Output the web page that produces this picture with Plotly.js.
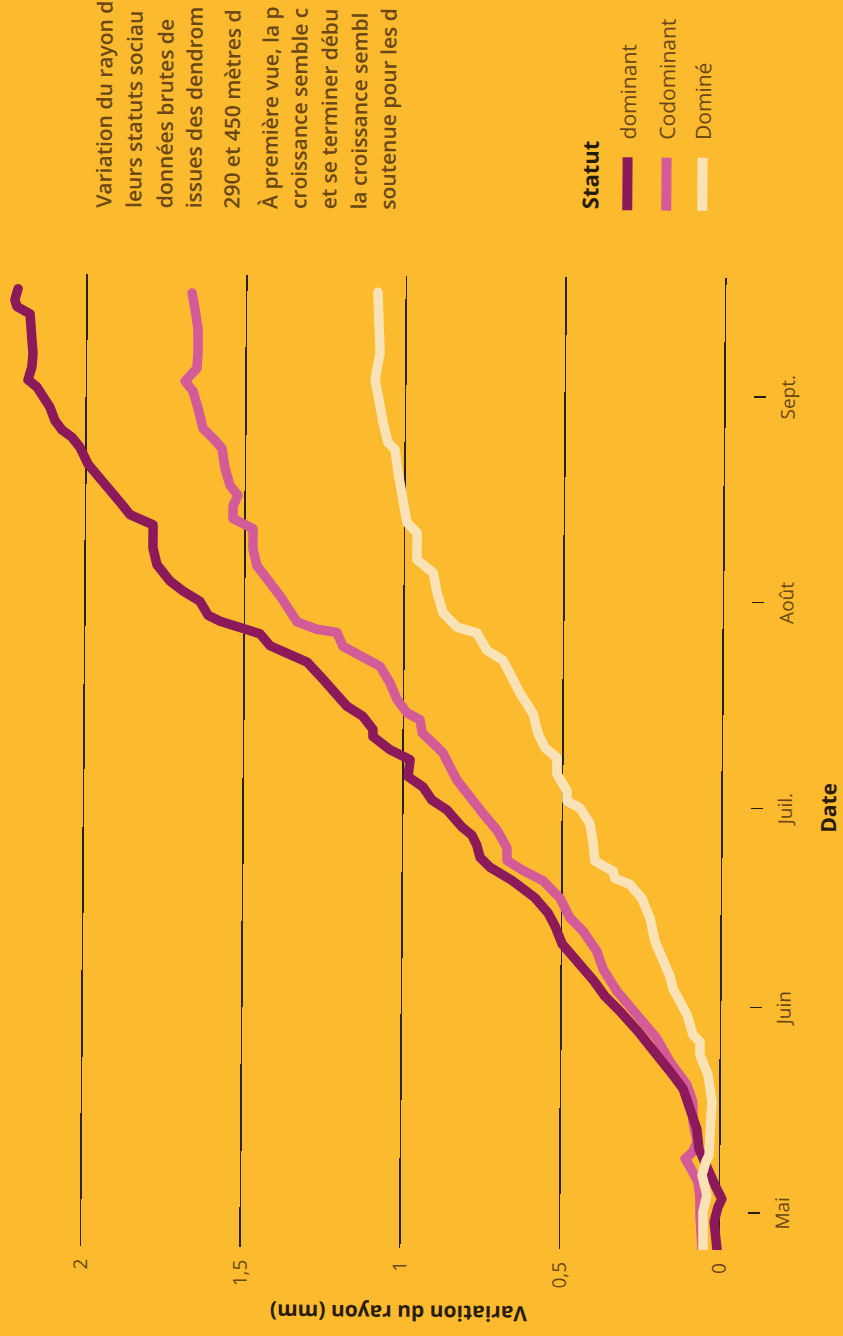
<!DOCTYPE html>
<html>
<head>
<meta charset="utf-8">
<script src="https://cdn.plot.ly/plotly-3.0.1.min.js"></script>
<style>
  html, body { margin: 0; padding: 0; width: 843px; height: 1336px; overflow: hidden; background: #FCBA2F; }
  #chart { position: absolute; left: 0; top: 0; width: 1336px; height: 843px;
           transform-origin: 0 0; transform: translate(2.4px, 1331px) rotate(-89.6deg); }
  #chart .js-line { stroke-linejoin: round; stroke-linecap: round; }
</style>
</head>
<body>
<div id="chart"></div>
<script>
// ---- data ----
const seriesNames = ['dominant', 'Codominant', 'Dominé'];

const dominantDates = ['2019-04-25 10:00','2019-04-27 19:00','2019-04-29 15:00','2019-05-01 21:00','2019-05-03 02:00','2019-05-04 21:00','2019-05-06 17:00','2019-05-08 16:00','2019-05-10 15:00','2019-05-13 15:00','2019-05-16 16:00','2019-05-19 16:00','2019-05-22 06:00','2019-05-25 17:00','2019-05-28 06:00','2019-05-31 06:00','2019-06-02 13:00','2019-06-04 19:00','2019-06-07 08:00','2019-06-10 09:00','2019-06-13 02:00','2019-06-15 01:00','2019-06-17 07:00','2019-06-19 21:00','2019-06-21 20:00','2019-06-23 08:00','2019-06-25 03:00','2019-06-26 16:00','2019-06-27 21:00','2019-06-30 10:00','2019-07-01 22:00','2019-07-03 21:00','2019-07-05 10:00','2019-07-07 23:00','2019-07-09 11:00','2019-07-11 10:00','2019-07-12 12:00','2019-07-14 11:00','2019-07-15 23:00','2019-07-18 02:00','2019-07-20 12:00','2019-07-22 14:00','2019-07-23 19:00','2019-07-25 00:00','2019-07-26 19:00','2019-07-27 14:00','2019-07-28 15:00','2019-07-29 13:00','2019-07-31 15:00','2019-08-02 04:00','2019-08-03 16:00','2019-08-06 02:00','2019-08-08 15:00','2019-08-12 02:00','2019-08-13 04:00','2019-08-13 15:00','2019-08-15 03:00','2019-08-17 06:00','2019-08-19 05:00','2019-08-21 04:00','2019-08-23 17:00','2019-08-25 05:00','2019-08-26 07:00','2019-08-27 18:00','2019-08-29 18:00','2019-08-31 17:00','2019-09-01 18:00','2019-09-02 20:00','2019-09-04 19:00','2019-09-06 18:00','2019-09-09 18:00','2019-09-12 18:00','2019-09-13 20:00','2019-09-14 21:00','2019-09-16 13:00'];
const dominantValues = [0.006,0.010,0.016,0.004,-0.008,0.011,0.027,0.052,0.065,0.072,0.094,0.116,0.157,0.211,0.258,0.315,0.363,0.397,0.442,0.498,0.521,0.543,0.584,0.656,0.725,0.757,0.767,0.783,0.814,0.861,0.909,0.937,0.984,0.978,1.041,1.095,1.095,1.127,1.177,1.221,1.262,1.303,1.357,1.419,1.451,1.514,1.576,1.614,1.640,1.693,1.734,1.775,1.788,1.788,1.829,1.861,1.886,1.924,1.962,1.993,2.019,2.044,2.075,2.098,2.114,2.136,2.155,2.183,2.171,2.168,2.172,2.178,2.219,2.226,2.216];

const codominantDates = ['2019-04-25 10:00','2019-04-28 03:00','2019-04-30 09:00','2019-05-03 09:00','2019-05-05 15:00','2019-05-07 22:00','2019-05-09 03:00','2019-05-10 04:00','2019-05-11 16:00','2019-05-14 17:00','2019-05-17 17:00','2019-05-20 06:00','2019-05-23 18:00','2019-05-27 05:00','2019-05-30 19:00','2019-06-03 07:00','2019-06-06 14:00','2019-06-09 07:00','2019-06-12 08:00','2019-06-14 07:00','2019-06-17 07:00','2019-06-19 21:00','2019-06-21 09:00','2019-06-22 21:00','2019-06-24 20:00','2019-06-27 10:00','2019-06-29 23:00','2019-07-02 09:00','2019-07-04 23:00','2019-07-06 22:00','2019-07-09 00:00','2019-07-09 22:00','2019-07-12 01:00','2019-07-14 00:00','2019-07-15 01:00','2019-07-17 00:00','2019-07-19 13:00','2019-07-22 00:00','2019-07-23 12:00','2019-07-25 00:00','2019-07-27 02:00','2019-07-27 13:00','2019-07-28 15:00','2019-07-30 14:00','2019-08-01 13:00','2019-08-04 02:00','2019-08-06 01:00','2019-08-08 15:00','2019-08-11 15:00','2019-08-13 03:00','2019-08-15 02:00','2019-08-16 15:00','2019-08-18 03:00','2019-08-20 16:00','2019-08-23 17:00','2019-08-25 05:00','2019-08-26 17:00','2019-08-29 18:00','2019-09-01 07:00','2019-09-02 19:00','2019-09-04 18:00','2019-09-07 08:00','2019-09-10 19:00','2019-09-13 19:00','2019-09-16 02:00'];
const codominantValues = [0.053,0.060,0.060,0.061,0.067,0.093,0.108,0.084,0.071,0.084,0.085,0.104,0.158,0.199,0.262,0.325,0.369,0.389,0.433,0.474,0.506,0.559,0.622,0.672,0.673,0.704,0.749,0.790,0.831,0.853,0.875,0.894,0.941,0.948,0.989,1.020,1.043,1.074,1.128,1.191,1.210,1.273,1.335,1.358,1.389,1.430,1.462,1.475,1.475,1.538,1.538,1.523,1.548,1.564,1.574,1.602,1.634,1.650,1.666,1.691,1.654,1.651,1.652,1.662,1.671];

const domineDates = ['2019-04-25 10:00','2019-04-28 13:00','2019-05-01 03:00','2019-05-03 16:00','2019-05-06 17:00','2019-05-08 16:00','2019-05-09 17:00','2019-05-12 18:00','2019-05-15 03:00','2019-05-17 17:00','2019-05-21 18:00','2019-05-24 19:00','2019-05-26 18:00','2019-05-27 19:00','2019-05-30 20:00','2019-06-03 18:00','2019-06-05 13:00','2019-06-07 19:00','2019-06-10 20:00','2019-06-14 07:00','2019-06-17 07:00','2019-06-19 10:00','2019-06-20 07:00','2019-06-21 09:00','2019-06-22 21:00','2019-06-25 21:00','2019-06-28 11:00','2019-06-30 21:00','2019-07-01 22:00','2019-07-03 10:00','2019-07-06 00:00','2019-07-08 10:00','2019-07-09 22:00','2019-07-12 01:00','2019-07-15 01:00','2019-07-18 02:00','2019-07-20 12:00','2019-07-23 01:00','2019-07-24 13:00','2019-07-27 03:00','2019-07-28 00:00','2019-07-30 03:00','2019-08-02 03:00','2019-08-05 04:00','2019-08-07 03:00','2019-08-09 09:00','2019-08-11 04:00','2019-08-12 17:00','2019-08-15 17:00','2019-08-16 15:00','2019-08-20 06:00','2019-08-23 17:00','2019-08-24 18:00','2019-08-27 18:00','2019-08-30 19:00','2019-09-03 06:00','2019-09-07 08:00','2019-09-12 07:00','2019-09-16 09:00'];
const domineValues = [0.050,0.051,0.051,0.039,0.055,0.043,0.033,0.031,0.025,0.025,0.038,0.064,0.064,0.086,0.105,0.150,0.159,0.182,0.207,0.223,0.249,0.287,0.334,0.340,0.397,0.404,0.413,0.445,0.486,0.486,0.518,0.518,0.556,0.578,0.594,0.635,0.658,0.689,0.740,0.771,0.834,0.878,0.897,0.910,0.961,0.961,0.961,0.993,1.006,1.006,1.022,1.032,1.054,1.070,1.080,1.096,1.081,1.082,1.089];

const monthTickDates = ['2019-05-01','2019-06-01','2019-07-01','2019-08-01','2019-09-01'];
const monthTickLabels = ['Mai','Juin','Juil.','Août','Sept.'];
const valueTicks = [0, 0.5, 1, 1.5, 2];
const valueTickLabels = ['0','0,5','1','1,5','2'];

const descriptionLines = [
  'Variation du rayon d',
  'leurs statuts sociau',
  'données brutes de',
  'issues des dendrom',
  '290 et 450 mètres d',
  'À première vue, la p',
  'croissance semble c',
  'et se terminer débu',
  'la croissance sembl',
  'soutenue pour les d'
];

// ---- styling / layout ----
const BG = '#FCBA2F';
const BROWN = '#6B4716';
const DARK = '#2A1C0C';
const colors = { dominant: '#8C1A5B', Codominant: '#D35B97', 'Dominé': '#F9E3B6' };
const FONT = 'Open Sans, Noto Sans, sans-serif';

// plot area in the (unrotated) figure, pixels
const W = 1336, H = 843, ML = 86, MR = 278, MT = 0, MB = 99;
const PW = W - ML - MR, PH = H - MT - MB;
const PX = x => (x - ML) / PW;
const PY = y => (H - MB - y) / PH;

const traces = [
  { name: 'Codominant', x: codominantDates, y: codominantValues },
  { name: 'dominant', x: dominantDates, y: dominantValues },
  { name: 'Dominé', x: domineDates, y: domineValues }
].map(s => ({
  type: 'scatter', mode: 'lines', name: s.name, x: s.x, y: s.y,
  line: { color: colors[s.name], width: 9.5 }, showlegend: false, hoverinfo: 'skip'
}));

const annotations = [];
const shapes = [];
// axis titles
annotations.push({ text: 'Variation du rayon (mm)', xref: 'paper', yref: 'paper', x: PX(20), y: PY(396.5),
  textangle: -90, showarrow: false, xanchor: 'center', yanchor: 'middle',
  font: { family: FONT, size: 21, color: DARK, weight: 700 } });
annotations.push({ text: 'Date', xref: 'paper', yref: 'paper', x: PX(528.7), y: PY(822),
  showarrow: false, xanchor: 'center', yanchor: 'middle',
  font: { family: FONT, size: 21, color: DARK, weight: 700 } });
// legend
annotations.push({ text: 'Statut', xref: 'paper', yref: 'paper', x: PX(1124), y: PY(579),
  showarrow: false, xanchor: 'left', yanchor: 'middle',
  font: { family: FONT, size: 22, color: DARK, weight: 700 } });
const legendY = [617, 656, 692];
seriesNames.forEach((n, i) => {
  shapes.push({ type: 'line', xref: 'paper', yref: 'paper', x0: PX(1125), x1: PX(1178), y0: PY(legendY[i]), y1: PY(legendY[i]),
    line: { color: colors[n], width: 10 } });
  annotations.push({ text: n, xref: 'paper', yref: 'paper', x: PX(1194), y: PY(legendY[i]),
    showarrow: false, xanchor: 'left', yanchor: 'middle',
    font: { family: FONT, size: 21, color: BROWN } });
});
// description text
const descY = [92.7, 123.2, 153.7, 183.2, 220.7, 258.7, 288.3, 317.9, 347.5, 377.1];
descriptionLines.forEach((t, i) => {
  annotations.push({ text: t, xref: 'paper', yref: 'paper', x: PX(1122), y: PY(descY[i]),
    showarrow: false, xanchor: 'left', yanchor: 'middle',
    font: { family: FONT, size: 21, color: BROWN, weight: 600 } });
});

const layout = {
  width: W, height: H,
  margin: { l: ML, r: MR, t: MT, b: MB, pad: 0 },
  paper_bgcolor: BG, plot_bgcolor: BG,
  showlegend: false,
  font: { family: FONT, color: BROWN },
  xaxis: {
    type: 'date', range: ['2019-04-25 09:36', '2019-09-18 21:36'],
    tickmode: 'array', tickvals: monthTickDates, ticktext: monthTickLabels,
    ticks: 'outside', ticklen: 12, tickwidth: 1.5, tickcolor: DARK,
    ticklabelstandoff: 6,
    tickfont: { family: FONT, size: 19, color: BROWN },
    showgrid: false, zeroline: false, showline: false
  },
  yaxis: {
    range: [-0.0877, 2.2424],
    tickmode: 'array', tickvals: valueTicks, ticktext: valueTickLabels,
    ticks: '', ticklabelstandoff: 12,
    tickfont: { family: FONT, size: 19, color: BROWN },
    showgrid: true, gridcolor: '#2B2114', gridwidth: 1.6,
    zeroline: false, showline: false
  },
  annotations: annotations,
  shapes: shapes
};

Plotly.newPlot('chart', traces, layout, { staticPlot: true, displayModeBar: false });
</script>
</body>
</html>
